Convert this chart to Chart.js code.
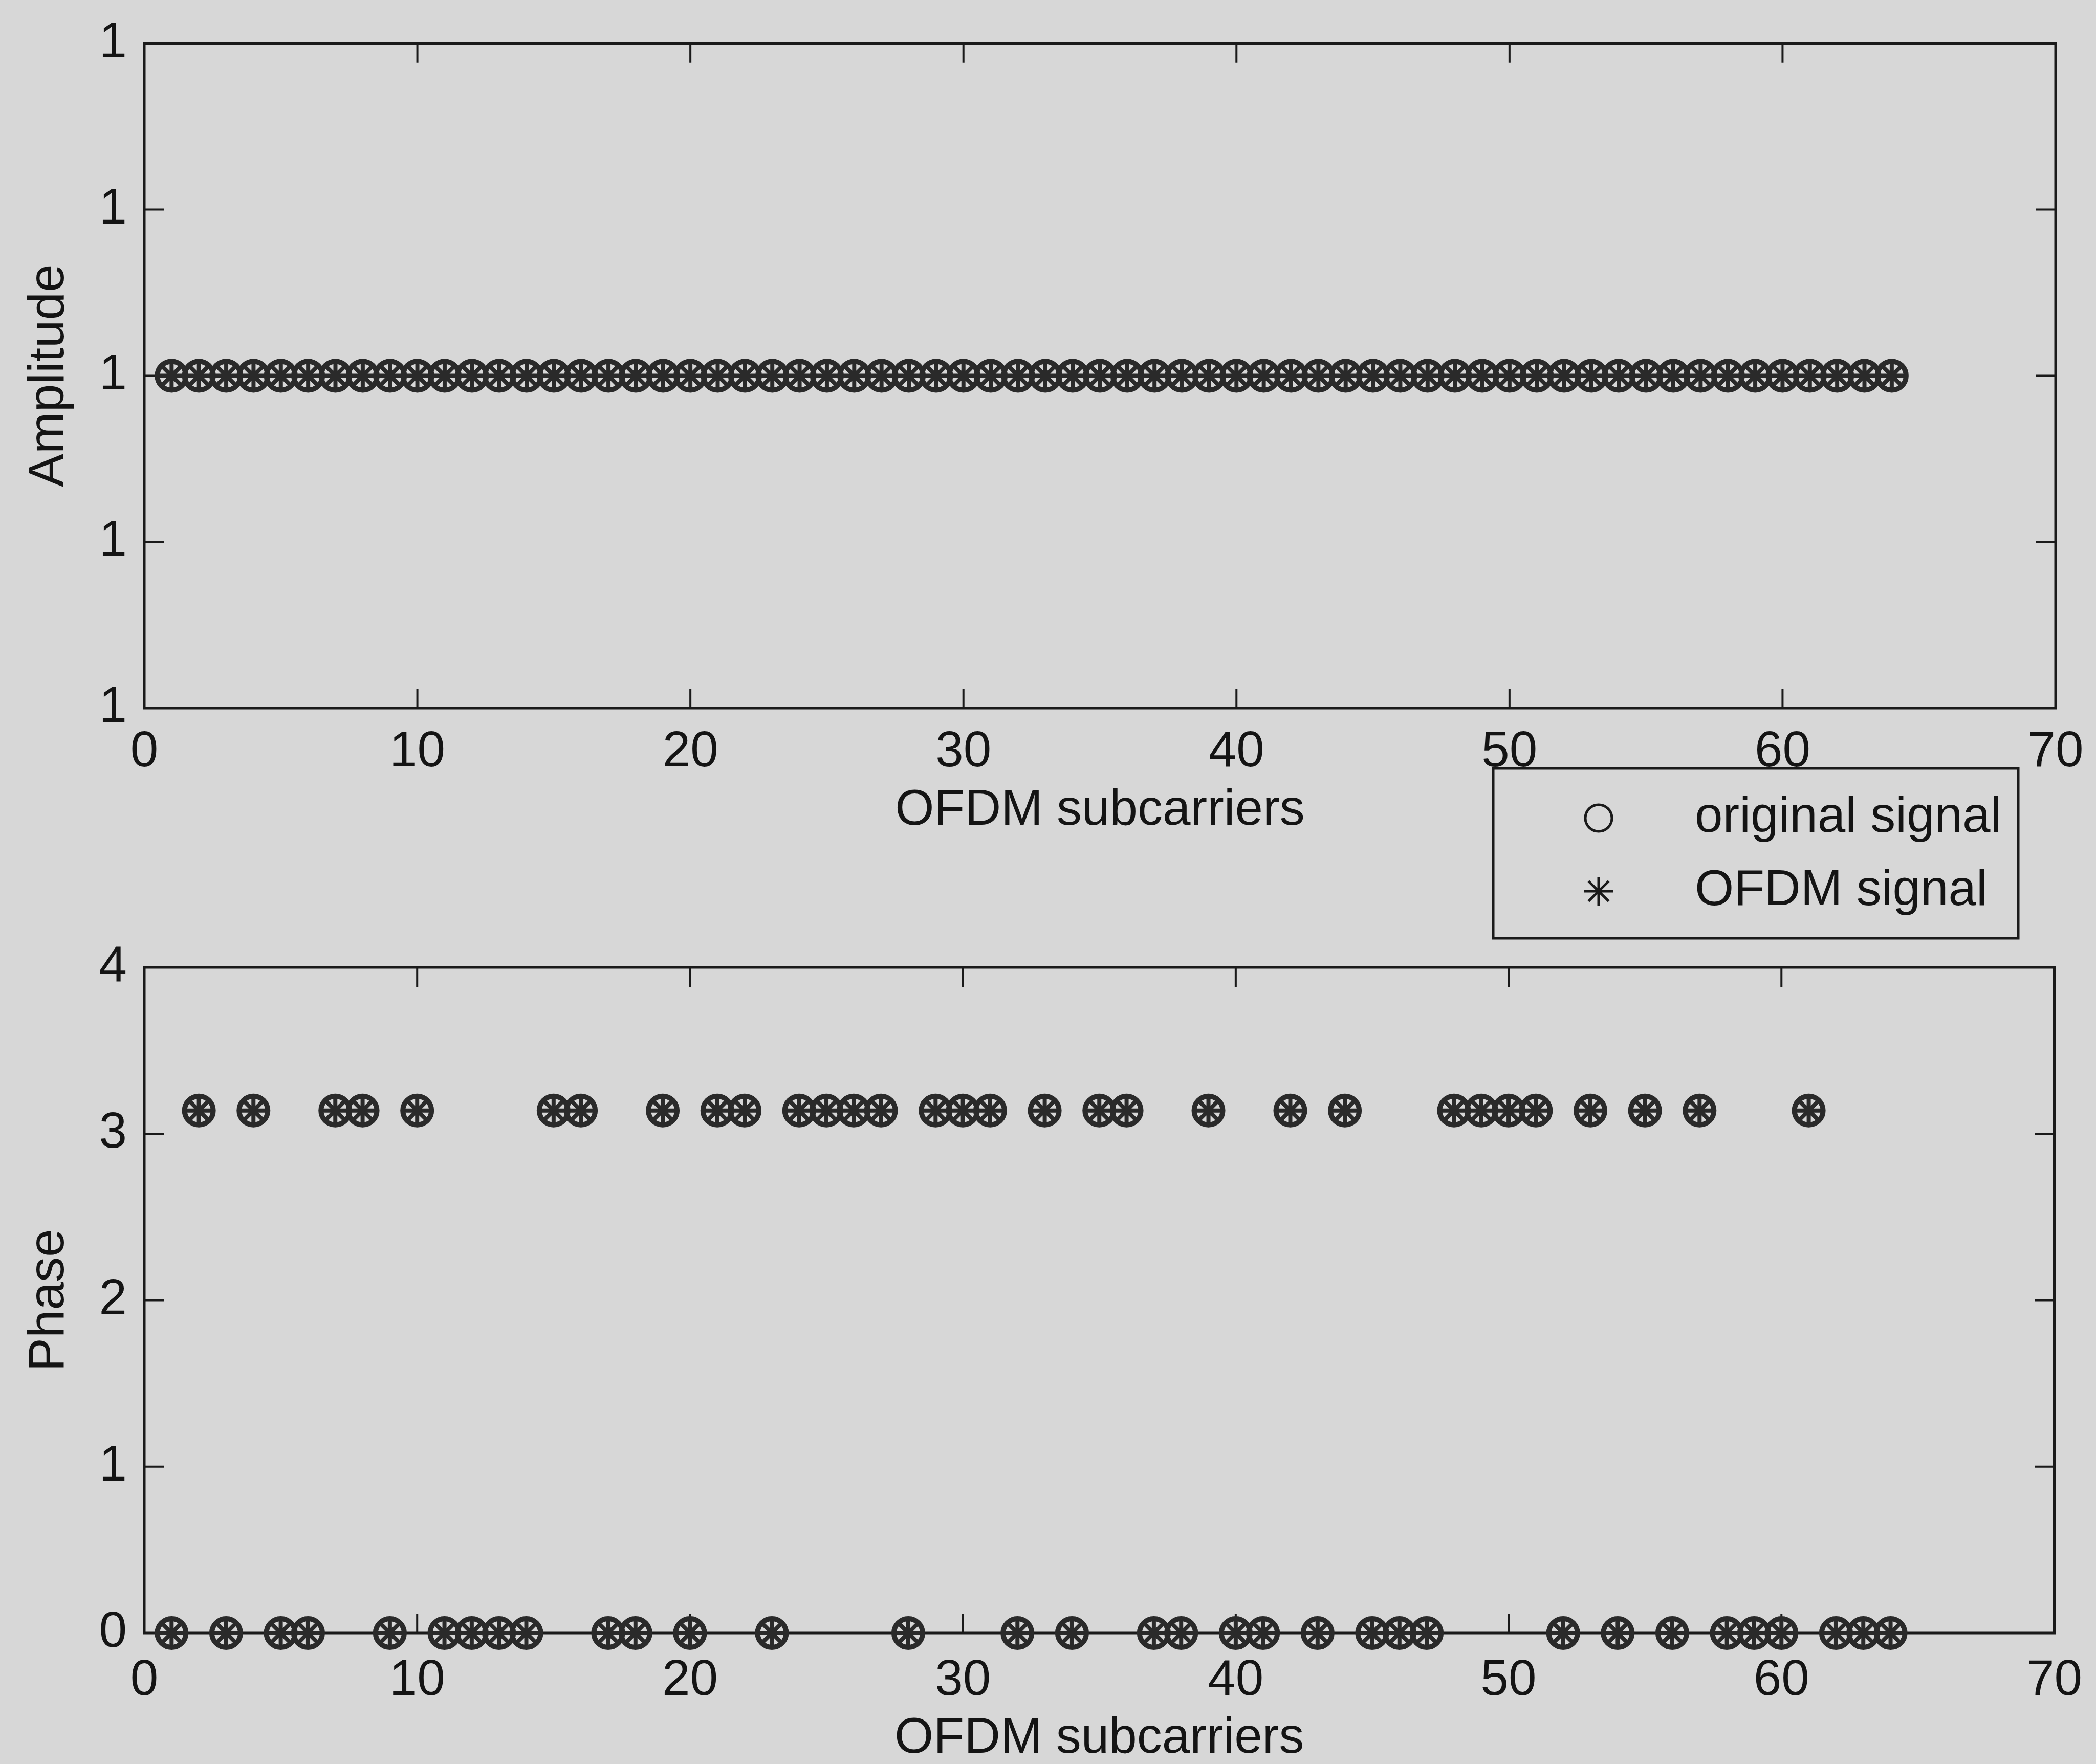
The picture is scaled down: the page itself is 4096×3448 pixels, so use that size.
<!DOCTYPE html>
<html>
<head>
<meta charset="utf-8">
<title>OFDM subcarriers - amplitude and phase</title>
<script src="https://cdn.jsdelivr.net/npm/chart.js@4.4.1/dist/chart.umd.min.js"></script>
<style>
  html, body { margin: 0; padding: 0; background: #d7d7d7; }
  body { width: 4096px; height: 3448px; position: relative; overflow: hidden; }
  canvas { position: absolute; left: 0; }
  #ampChart { top: 0; }
  #phaseChart { top: 1480px; }
</style>
</head>
<body>
<canvas id="ampChart" width="4096" height="1644"></canvas>
<canvas id="phaseChart" width="4096" height="1968"></canvas>
<script>
// subcarrier index (x)
const subcarriers = [1, 2, 3, 4, 5, 6, 7, 8, 9, 10, 11, 12, 13, 14, 15, 16,
  17, 18, 19, 20, 21, 22, 23, 24, 25, 26, 27, 28, 29, 30, 31, 32,
  33, 34, 35, 36, 37, 38, 39, 40, 41, 42, 43, 44, 45, 46, 47, 48,
  49, 50, 51, 52, 53, 54, 55, 56, 57, 58, 59, 60, 61, 62, 63, 64];

// amplitude of every subcarrier
const amplitudeOriginal = [1, 1, 1, 1, 1, 1, 1, 1, 1, 1, 1, 1, 1, 1, 1, 1,
  1, 1, 1, 1, 1, 1, 1, 1, 1, 1, 1, 1, 1, 1, 1, 1,
  1, 1, 1, 1, 1, 1, 1, 1, 1, 1, 1, 1, 1, 1, 1, 1,
  1, 1, 1, 1, 1, 1, 1, 1, 1, 1, 1, 1, 1, 1, 1, 1];
const amplitudeOfdm = [1, 1, 1, 1, 1, 1, 1, 1, 1, 1, 1, 1, 1, 1, 1, 1,
  1, 1, 1, 1, 1, 1, 1, 1, 1, 1, 1, 1, 1, 1, 1, 1,
  1, 1, 1, 1, 1, 1, 1, 1, 1, 1, 1, 1, 1, 1, 1, 1,
  1, 1, 1, 1, 1, 1, 1, 1, 1, 1, 1, 1, 1, 1, 1, 1];

// phase of every subcarrier (0 or pi)
const phaseOriginal = [0, 3.14, 0, 3.14, 0, 0, 3.14, 3.14, 0, 3.14, 0, 0, 0, 0, 3.14, 3.14,
  0, 0, 3.14, 0, 3.14, 3.14, 0, 3.14, 3.14, 3.14, 3.14, 0, 3.14, 3.14, 3.14, 0,
  3.14, 0, 3.14, 3.14, 0, 0, 3.14, 0, 0, 3.14, 0, 3.14, 0, 0, 0, 3.14,
  3.14, 3.14, 3.14, 0, 3.14, 0, 3.14, 0, 3.14, 0, 0, 0, 3.14, 0, 0, 0];
const phaseOfdm = [0, 3.14, 0, 3.14, 0, 0, 3.14, 3.14, 0, 3.14, 0, 0, 0, 0, 3.14, 3.14,
  0, 0, 3.14, 0, 3.14, 3.14, 0, 3.14, 3.14, 3.14, 3.14, 0, 3.14, 3.14, 3.14, 0,
  3.14, 0, 3.14, 3.14, 0, 0, 3.14, 0, 0, 3.14, 0, 3.14, 0, 0, 0, 3.14,
  3.14, 3.14, 3.14, 0, 3.14, 0, 3.14, 0, 3.14, 0, 0, 0, 3.14, 0, 0, 0];

const seriesNames = ['original signal', 'OFDM signal'];
const xTicks = [0, 10, 20, 30, 40, 50, 60, 70];

const inkColor = '#1a1a1a';
const markColor = '#2a2a2a';
const fontFamily = "'Liberation Sans', Arial, Helvetica, sans-serif";
Chart.defaults.font.family = fontFamily;
Chart.defaults.color = '#141414';

function toXY(ys) {
  return subcarriers.map(function(x, i) { return {x: x, y: ys[i]}; });
}

// matlab-style box with ticks pointing inwards on all four sides
const boxTicks = {
  id: 'boxTicks',
  beforeDatasetsDraw(chart) {
    const ctx = chart.ctx;
    const a = chart.chartArea;
    const sx = chart.scales.x, sy = chart.scales.y;
    const len = 38;
    ctx.save();
    ctx.strokeStyle = inkColor;
    ctx.lineWidth = 4;
    ctx.beginPath();
    sx.ticks.forEach(function(t) {
      const p = sx.getPixelForValue(t.value);
      ctx.moveTo(p, a.bottom); ctx.lineTo(p, a.bottom - len);
      ctx.moveTo(p, a.top); ctx.lineTo(p, a.top + len);
    });
    sy.ticks.forEach(function(t) {
      const p = sy.getPixelForValue(t.value);
      ctx.moveTo(a.left, p); ctx.lineTo(a.left + len, p);
      ctx.moveTo(a.right, p); ctx.lineTo(a.right - len, p);
    });
    ctx.stroke();
    ctx.lineWidth = 5;
    ctx.strokeRect(a.left, a.top, a.right - a.left, a.bottom - a.top);
    ctx.restore();
  }
};

// boxed legend sitting between the two plots
const legendBox = {
  id: 'legendBox',
  afterDraw(chart) {
    const ctx = chart.ctx;
    const rows = [119, 262];
    ctx.save();
    ctx.fillStyle = '#d7d7d7';
    ctx.fillRect(2918, 22, 1026, 332);
    ctx.strokeStyle = inkColor;
    ctx.lineWidth = 5;
    ctx.strokeRect(2918, 22, 1026, 332);
    chart.data.datasets.forEach(function(ds, i) {
      ctx.strokeStyle = inkColor;
      ctx.fillStyle = 'rgba(0,0,0,0)';
      Chart.helpers.drawPoint(ctx, {
        pointStyle: ds.pointStyle,
        radius: ds.pointStyle === 'circle' ? 26 : 28,
        borderWidth: ds.pointStyle === 'circle' ? 6 : 8,
        rotation: 0
      }, 3124, rows[i]);
      ctx.fillStyle = '#141414';
      ctx.font = '98px ' + fontFamily;
      ctx.textAlign = 'left';
      ctx.textBaseline = 'middle';
      ctx.fillText(ds.label, 3312, rows[i]);
    });
    ctx.restore();
  }
};

function makeDatasets(orig, ofdm) {
  return [
    {
      label: seriesNames[0],
      data: toXY(orig),
      pointStyle: 'circle',
      pointRadius: 28,
      borderWidth: 10,
      borderColor: markColor,
      backgroundColor: 'rgba(0,0,0,0)',
      showLine: false,
      clip: false
    },
    {
      label: seriesNames[1],
      data: toXY(ofdm),
      pointStyle: 'star',
      pointRadius: 28,
      borderWidth: 8,
      borderColor: markColor,
      backgroundColor: 'rgba(0,0,0,0)',
      showLine: false,
      clip: false
    }
  ];
}

function makeScales(opt) {
  return {
    x: {
      type: 'linear',
      min: xTicks[0],
      max: xTicks[xTicks.length - 1],
      grid: {display: false},
      border: {display: false},
      afterBuildTicks: function(s) { s.ticks = xTicks.map(function(v) { return {value: v}; }); },
      ticks: {autoSkip: false, maxRotation: 0, padding: opt.xPad, font: {size: 98}},
      title: {display: true, text: 'OFDM subcarriers', font: {size: 98, lineHeight: opt.titleLH}, padding: 0},
      afterFit: function(s) { s.height = opt.xHeight; }
    },
    y: {
      type: 'linear',
      min: opt.yMin,
      max: opt.yMax,
      grid: {display: false},
      border: {display: false},
      afterBuildTicks: function(s) { s.ticks = opt.yTicks.map(function(v) { return {value: v}; }); },
      ticks: {autoSkip: false, padding: 26, font: {size: 98}, callback: opt.yFormat},
      title: {display: true, text: opt.yTitle, font: {size: 98}, padding: {top: 38, bottom: 0}},
      afterFit: function(s) { s.width = 282; }
    }
  };
}

new Chart(document.getElementById('ampChart'), {
  type: 'scatter',
  data: {datasets: makeDatasets(amplitudeOriginal, amplitudeOfdm)},
  options: {
    responsive: false,
    animation: false,
    devicePixelRatio: 1,
    layout: {padding: {left: 0, right: 79, top: 84, bottom: 0}},
    plugins: {legend: {display: false}, tooltip: {enabled: false}},
    scales: makeScales({
      yMin: 0.98, yMax: 1.02,
      yTicks: [0.98, 0.99, 1, 1.01, 1.02],
      yTitle: 'Amplitude',
      yFormat: function(v) { return Math.round(v); },   // axis precision shows all ticks as "1"
      xPad: 20, xHeight: 260, titleLH: 1.2
    })
  },
  plugins: [boxTicks]
});

new Chart(document.getElementById('phaseChart'), {
  type: 'scatter',
  data: {datasets: makeDatasets(phaseOriginal, phaseOfdm)},
  options: {
    responsive: false,
    animation: false,
    devicePixelRatio: 1,
    layout: {padding: {left: 0, right: 79, top: 411, bottom: 0}},
    plugins: {legend: {display: false}, tooltip: {enabled: false}},
    scales: makeScales({
      yMin: 0, yMax: 4,
      yTicks: [0, 1, 2, 3, 4],
      yTitle: 'Phase',
      yFormat: function(v) { return v; },
      xPad: 27, xHeight: 256, titleLH: 1
    })
  },
  plugins: [boxTicks, legendBox]
});
</script>
</body>
</html>
